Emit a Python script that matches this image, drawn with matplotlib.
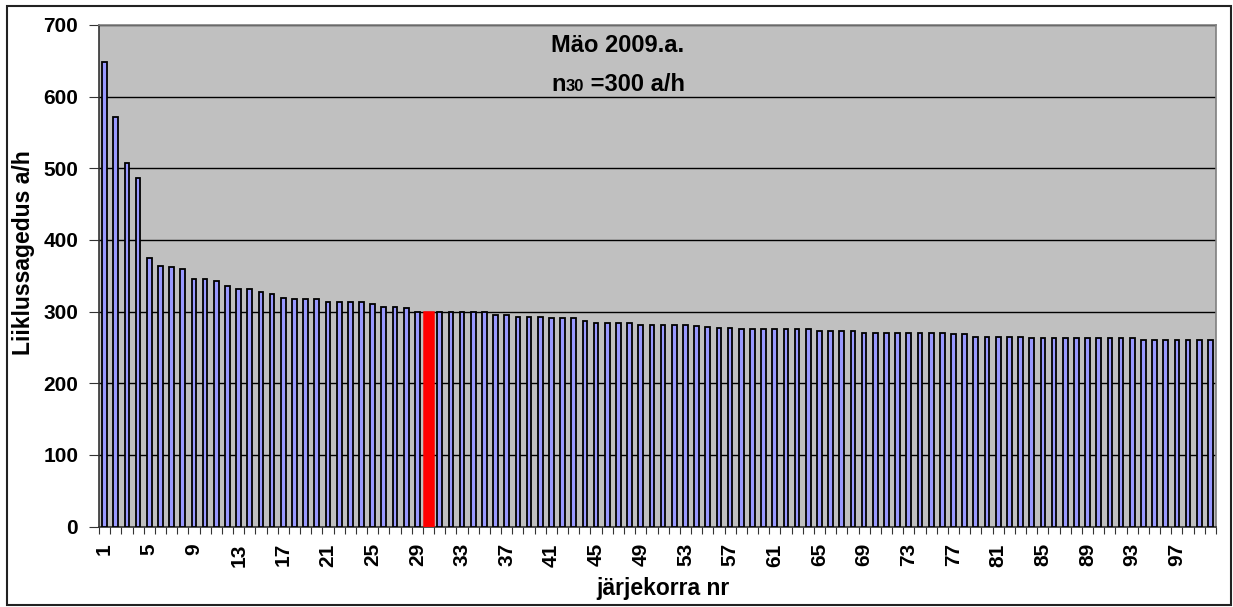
import matplotlib
matplotlib.use("Agg")
import matplotlib.pyplot as plt
from matplotlib.patches import Rectangle
import numpy as np

plt.rcParams['font.family'] = ['Liberation Sans', 'DejaVu Sans']
plt.rcParams['font.weight'] = 'bold'

categories = list(range(1, 101))
values = [649, 571, 507, 486, 375, 363, 362, 360, 345, 345,
          343, 336, 332, 332, 328, 324, 319, 317, 317, 317,
          314, 314, 314, 314, 310, 307, 307, 305, 300, 300,
          300, 299, 299, 299, 299, 295, 295, 293, 293, 293,
          291, 291, 291, 287, 284, 284, 284, 284, 281, 281,
          281, 281, 281, 280, 279, 277, 277, 275, 275, 275,
          275, 275, 275, 275, 273, 273, 273, 273, 270, 270,
          270, 270, 270, 270, 270, 270, 268, 268, 265, 265,
          265, 265, 265, 263, 263, 263, 263, 263, 263, 263,
          263, 263, 263, 261, 261, 261, 261, 261, 261, 261]
highlight = 30
xtick_labels = list(range(1, 101, 4))
yticks = [0, 100, 200, 300, 400, 500, 600, 700]

W, H = 1233, 607
fig = plt.figure(figsize=(W / 100, H / 100), dpi=100)
fig.patch.set_facecolor('white')

ax = fig.add_axes([99 / W, 1 - 526.5 / H, (1216 - 99) / W, (526.5 - 25) / H])
ax.set_facecolor('#C0C0C0')

others = [c for c in categories if c != highlight]
ax.bar(others, [values[c - 1] for c in others], width=0.42,
       color='#9999FF', edgecolor='black', linewidth=1.3, zorder=3)
ax.bar([highlight], [values[highlight - 1]], width=0.72,
       color='#FF0000', edgecolor='#FF0000', linewidth=1.8, zorder=3)

ax.set_xlim(0.5, 100.5)
ax.set_ylim(0, 700)
ax.set_yticks(yticks)
ax.set_yticklabels([str(v) for v in yticks], fontsize=15, fontweight='bold')
ax.yaxis.grid(True, color='black', linewidth=1.0, zorder=1)
ax.set_axisbelow(True)

ax.set_xticks(xtick_labels)
ax.set_xticklabels([str(v) for v in xtick_labels], rotation=90,
                   fontsize=15, fontweight='bold')
ax.set_xticks(np.arange(0.5, 101, 1), minor=True)
ax.tick_params(axis='x', which='major', length=0, pad=12)
ax.tick_params(axis='x', which='minor', length=5, width=0.8, color='#333333')
ax.tick_params(axis='y', which='major', length=7, width=0.8, color='#333333', pad=8)

for s in ax.spines.values():
    s.set_color('#808080')
    s.set_linewidth(1.2)
ax.spines['left'].set_color('#333333')
ax.spines['bottom'].set_color('#333333')

fig.text(24 / W, 1 - 253 / H, 'Liiklussagedus a/h', rotation=90,
         ha='center', va='center', fontsize=16.5, fontweight='bold')
fig.text(663 / W, 1 - 588 / H, 'järjekorra nr', ha='center', va='center',
         fontsize=16.5, fontweight='bold')

# title lines
fig.text(618 / W, 1 - 45 / H, 'Mäo 2009.a.', ha='center', va='center',
         fontsize=17, fontweight='bold')
fig.canvas.draw()
r = fig.canvas.get_renderer()
parts = [('n', 17), ('30', 12), (' =300 a/h', 17)]
tmp = []
total = 0
for s, fs in parts:
    t = fig.text(0, 0, s, fontsize=fs, fontweight='bold')
    w = t.get_window_extent(r).width
    tmp.append((t, w))
    total += w
x0 = 618 - total / 2
ybase = 1 - 91 / H
for t, w in tmp:
    t.set_position((x0 / W, ybase))
    t.set_va('baseline')
    x0 += w

fig.patches.append(Rectangle((7 / W, 1 - 605 / H), (1231 - 7) / W, (605 - 6) / H,
                             transform=fig.transFigure, fill=False,
                             edgecolor='#222222', linewidth=1.5))

fig.savefig('out.png', dpi=100, facecolor='white')
